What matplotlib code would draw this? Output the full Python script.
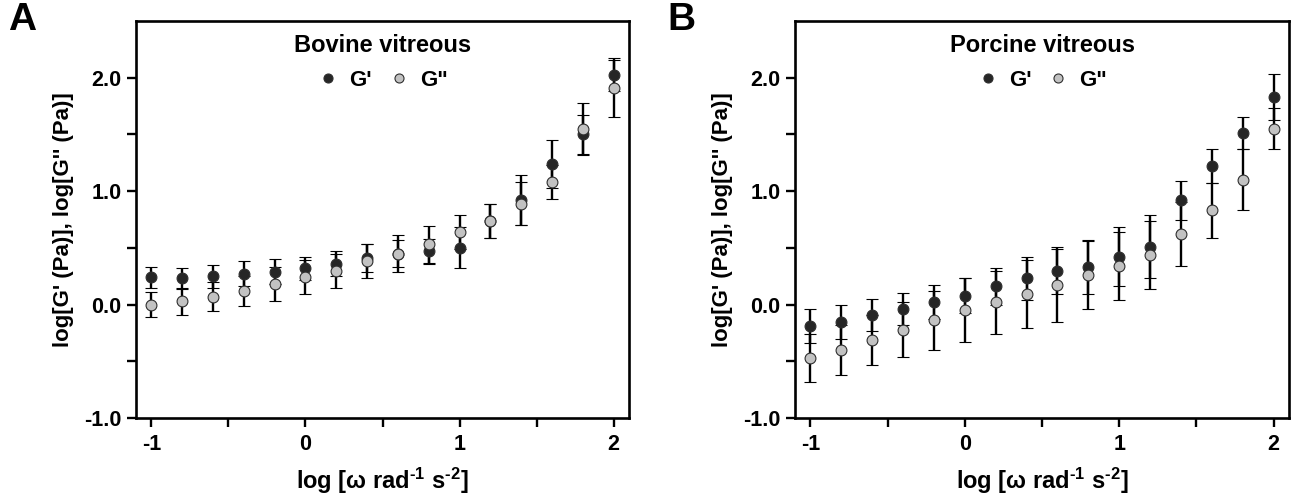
import matplotlib
matplotlib.use('Agg')
import matplotlib.pyplot as plt
import matplotlib.ticker as ticker
from matplotlib.lines import Line2D

plt.rcParams['font.family'] = 'Liberation Sans'
plt.rcParams['font.weight'] = 'bold'
plt.rcParams['axes.labelweight'] = 'bold'
plt.rcParams['axes.unicode_minus'] = False
plt.rcParams['mathtext.fontset'] = 'custom'
plt.rcParams['mathtext.rm'] = 'Liberation Sans:bold'
plt.rcParams['mathtext.it'] = 'Liberation Sans'
plt.rcParams['mathtext.bf'] = 'Liberation Sans:bold'

# log angular frequency
omega = [-1.0, -0.8, -0.6, -0.4, -0.2, 0.0, 0.2, 0.4, 0.6, 0.8, 1.0, 1.2, 1.4, 1.6, 1.8, 2.0]

# bovine vitreous
bov_g1 = [0.24, 0.23, 0.25, 0.27, 0.29, 0.32, 0.36, 0.41, 0.45, 0.47, 0.50, 0.74, 0.92, 1.24, 1.50, 2.02]
bov_g1_err = [0.09, 0.09, 0.10, 0.11, 0.11, 0.10, 0.11, 0.12, 0.16, 0.11, 0.18, 0.15, 0.22, 0.21, 0.17, 0.14]
bov_g2 = [0.00, 0.03, 0.07, 0.12, 0.18, 0.24, 0.30, 0.38, 0.45, 0.53, 0.64, 0.74, 0.89, 1.08, 1.55, 1.91]
bov_g2_err = [0.11, 0.12, 0.13, 0.13, 0.15, 0.15, 0.15, 0.15, 0.12, 0.16, 0.15, 0.15, 0.19, 0.15, 0.23, 0.26]

# porcine vitreous
por_g1 = [-0.19, -0.15, -0.09, -0.04, 0.02, 0.08, 0.16, 0.23, 0.30, 0.33, 0.42, 0.51, 0.92, 1.22, 1.51, 1.83]
por_g1_err = [0.15, 0.15, 0.14, 0.14, 0.15, 0.15, 0.16, 0.19, 0.21, 0.24, 0.26, 0.28, 0.17, 0.15, 0.14, 0.20]
por_g2 = [-0.47, -0.40, -0.31, -0.22, -0.14, -0.05, 0.02, 0.09, 0.17, 0.26, 0.34, 0.44, 0.62, 0.83, 1.10, 1.55]
por_g2_err = [0.21, 0.22, 0.22, 0.24, 0.26, 0.28, 0.28, 0.30, 0.32, 0.30, 0.30, 0.30, 0.28, 0.24, 0.27, 0.18]

dark = '#262626'
light = '#c2c2c2'
edge = '#2e2e2e'


def panel(ax, g1, g1_err, g2, g2_err, title):
    ax.errorbar(omega, g1, yerr=g1_err, fmt='o', ms=7.8, mfc=dark, mec=edge, mew=0.8,
                ecolor='black', elinewidth=1.7, capsize=4, capthick=1.7)
    ax.errorbar(omega, g2, yerr=g2_err, fmt='o', ms=7.8, mfc=light, mec=edge, mew=0.8,
                ecolor='black', elinewidth=1.7, capsize=4, capthick=1.7)
    ax.set_xlim(-1.1, 2.1)
    ax.set_ylim(-1.0, 2.5)
    ax.xaxis.set_major_locator(ticker.MultipleLocator(0.5))
    ax.yaxis.set_major_locator(ticker.FixedLocator([-1.0, -0.5, 0.0, 0.5, 1.0, 1.5, 2.0]))
    ax.xaxis.set_major_formatter(ticker.FuncFormatter(
        lambda v, p: '%d' % round(v) if abs(v - round(v)) < 1e-6 else ''))
    ax.yaxis.set_major_formatter(ticker.FuncFormatter(
        lambda v, p: '%.1f' % v if abs(v - round(v)) < 1e-6 else ''))
    ax.tick_params(direction='out', length=6.5, width=1.7, labelsize=15.5, pad=4)
    ax.tick_params(axis='x', pad=5)
    for s in ax.spines.values():
        s.set_linewidth(1.9)
    ax.set_xlabel('log [\u03c9 rad$^{\u2010\\mathrm{1}}$ s$^{\u2010\\mathrm{2}}$]',
                  fontsize=17, fontweight='bold', labelpad=8)
    ax.set_ylabel("log[G' (Pa)], log[G'' (Pa)]", fontsize=16, fontweight='bold', labelpad=7)
    handles = [Line2D([], [], ls='none', marker='o', ms=6.5, mfc=dark, mec=edge, mew=0.8),
               Line2D([], [], ls='none', marker='o', ms=6.5, mfc=light, mec=edge, mew=0.8)]
    ax.legend(handles, ["G'", 'G"'], title=title, loc='upper center', ncol=2,
              frameon=False, handlelength=1.0, handletextpad=0.45, columnspacing=0.7,
              prop={'weight': 'bold', 'size': 16}, borderaxespad=0.2, labelspacing=0.2,
              title_fontproperties={'weight': 'bold', 'size': 17})
    ax.get_legend()._legend_box.sep = 9


fig = plt.figure(figsize=(12.94, 4.99), dpi=100)
ax1 = fig.add_axes([0.1051, 0.1623, 0.381, 0.7956])
ax2 = fig.add_axes([0.6144, 0.1623, 0.3818, 0.7956])

panel(ax1, bov_g1, bov_g1_err, bov_g2, bov_g2_err, 'Bovine vitreous')
panel(ax2, por_g1, por_g1_err, por_g2, por_g2_err, 'Porcine vitreous')

fig.text(0.006, 0.995, 'A', fontsize=28, fontweight='bold', va='top', ha='left')
fig.text(0.516, 0.995, 'B', fontsize=28, fontweight='bold', va='top', ha='left')

fig.savefig('out.png', dpi=100)
